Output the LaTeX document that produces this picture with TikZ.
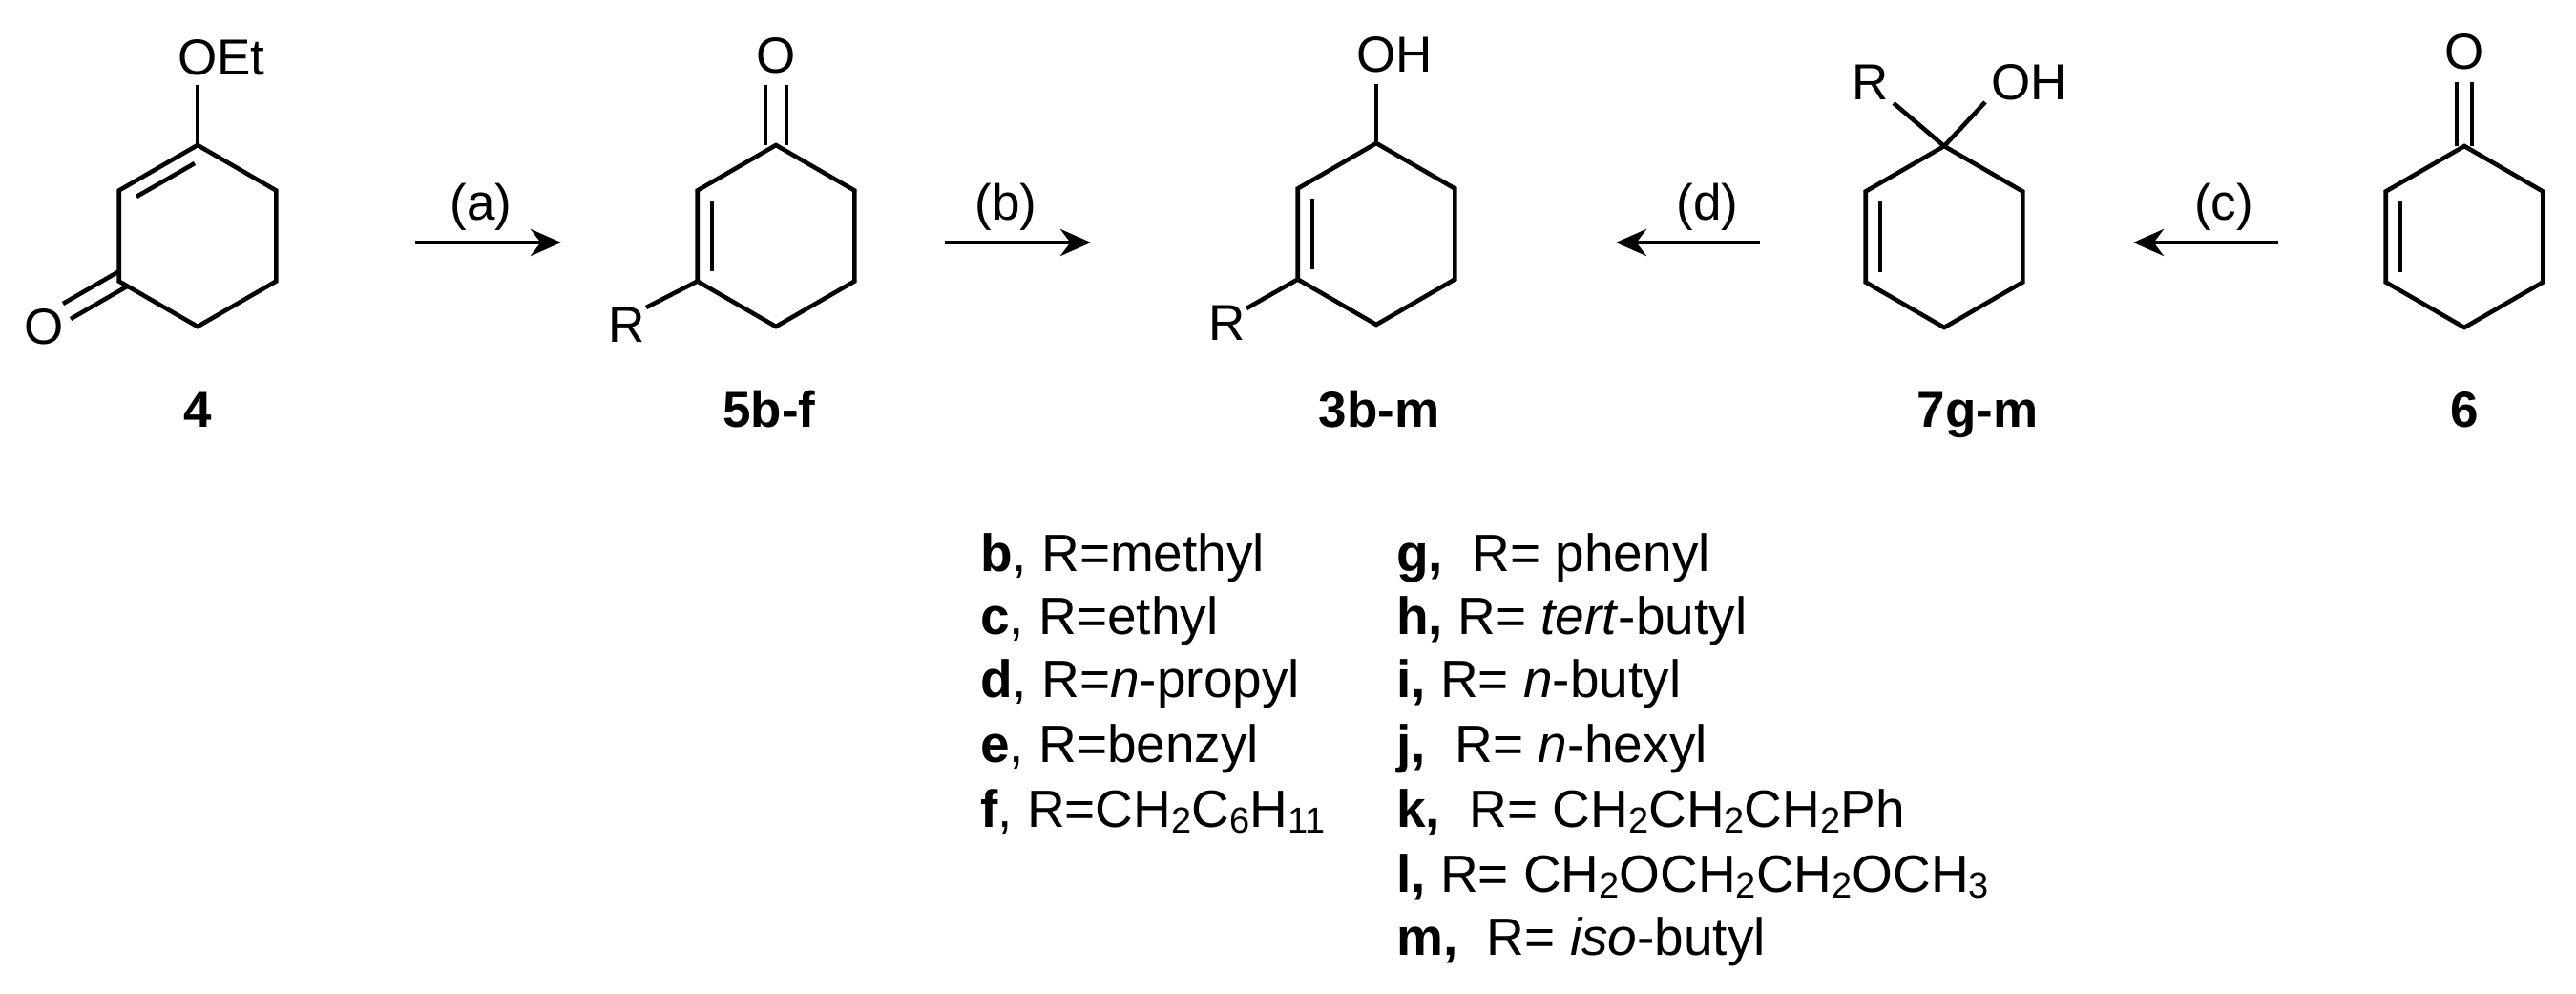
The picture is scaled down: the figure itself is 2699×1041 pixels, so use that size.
\documentclass[tikz,border=0pt]{standalone}
\usepackage{fontspec}
\setmainfont{Liberation Sans}
\usetikzlibrary{arrows.meta}
\newcommand\hexring[3]{% name, cx, top y
  \coordinate (#1T) at (#2,#3);
  \coordinate (#1UR) at (#2+82.3,#3+47.5);
  \coordinate (#1LR) at (#2+82.3,#3+142.5);
  \coordinate (#1B) at (#2,#3+190);
  \coordinate (#1LL) at (#2-82.3,#3+142.5);
  \coordinate (#1UL) at (#2-82.3,#3+47.5);
  \draw[bond,line join=miter] (#1T)--(#1UR)--(#1LR)--(#1B)--(#1LL)--(#1UL)--cycle;}
\newcommand\leftinner[3]{\draw[bond] (#2-67,#3+58) -- (#2-67,#3+132);}
\newcommand\lsub[1]{\raisebox{-0.12em}{\fontsize{38}{40}\selectfont #1}}
\begin{document}
\begin{tikzpicture}[x=1pt,y=-1pt,
  bond/.style={line width=4.6pt},
  txt/.style={inner sep=0pt,font=\fontsize{53}{60}\selectfont},
  lbl/.style={inner sep=0pt,anchor=base,font=\fontsize{53}{60}\selectfont\bfseries},
  rxn/.style={line width=4.6pt,-{Stealth[length=32pt,width=28pt]}},
  leg/.style={inner sep=0pt,anchor=base west,font=\fontsize{55}{60}\selectfont}]
\useasboundingbox (0,0) rectangle (2699,1041);
% ring 4
\hexring{a}{207}{152}
\draw[bond] (204,171) -- (143,206);
\draw[bond] (207,152) -- (207,89);
\node[txt,anchor=base west] (oet) at (186,78) {OEt};
\draw[bond] (125,284) -- (66,318);
\draw[bond] (133,300) -- (74,334);
\node[txt,anchor=base west] (oa) at (25,360) {O};
\node[lbl] (l4) at (207,447) {4};
% ring 5
\hexring{b}{813}{152}
\leftinner{b}{813}{152}
\draw[bond] (802,152) -- (802,89);
\draw[bond] (824,152) -- (824,89);
\node[txt,anchor=base west] (ob) at (792,77) {O};
\draw[bond] (bLL) -- (677,322);
\node[txt,anchor=base west] (rb) at (637,358) {R};
\node[lbl] (l5) at (806,447) {5b-f};
% ring 3
\hexring{c}{1442}{150}
\leftinner{c}{1442}{150}
\draw[bond] (cT) -- (1442,88);
\node[txt,anchor=base west] (oc) at (1421,75) {OH};
\draw[bond] (cLL) -- (1306,323);
\node[txt,anchor=base west] (rc) at (1266,356) {R};
\node[lbl] (l3) at (1445,447) {3b-m};
% ring 7
\hexring{d}{2037}{153}
\leftinner{d}{2037}{153}
\draw[bond] (dT) -- (1984,108);
\draw[bond] (dT) -- (2080,107);
\node[txt,anchor=base west] (rd) at (1940,104) {R};
\node[txt,anchor=base west] (od) at (2086,104) {OH};
\node[lbl] (l7) at (2072,447) {7g-m};
% ring 6
\hexring{e}{2582}{153}
\leftinner{e}{2582}{153}
\draw[bond] (2574,153) -- (2574,86);
\draw[bond] (2590,153) -- (2590,86);
\node[txt,anchor=base west] (oe) at (2561,73) {O};
\node[lbl] (l6) at (2582,447) {6};
% arrows
\coordinate (a1) at (435,254); \coordinate (a2) at (588,254);
\draw[rxn] (a1) -- (a2);
\node[txt,anchor=base] (ra) at (504,230) {(a)};
\coordinate (b1) at (990,254); \coordinate (b2) at (1143,254);
\draw[rxn] (b1) -- (b2);
\node[txt,anchor=base] (rb2) at (1054,230) {(b)};
\coordinate (d1) at (1844,254); \coordinate (d2) at (1693,254);
\draw[rxn] (d1) -- (d2);
\node[txt,anchor=base] (rd2) at (1789,230) {(d)};
\coordinate (c1) at (2387,254); \coordinate (c2) at (2235,254);
\draw[rxn] (c1) -- (c2);
\node[txt,anchor=base] (rc2) at (2330,230) {(c)};
% legend
\node[leg] (lb) at (1027,598) {\textbf{b}, R=methyl};
\node[leg] (lc) at (1027,664) {\textbf{c}, R=ethyl};
\node[leg] (ld) at (1027,730) {\textbf{d}, R=\textit{n}-propyl};
\node[leg] (le) at (1027,798) {\textbf{e}, R=benzyl};
\node[leg] (lf) at (1027,866) {\textbf{f}, R=CH\lsub{2}C\lsub{6}H\lsub{11}};
\node[leg] (lg) at (1463,598) {\textbf{g,}\ \ R= phenyl};
\node[leg] (lh) at (1463,664) {\textbf{h,} R= \textit{tert}-butyl};
\node[leg] (li) at (1463,730) {\textbf{i,} R= \textit{n}-butyl};
\node[leg] (lj) at (1463,798) {\textbf{j,}\ \ R= \textit{n}-hexyl};
\node[leg] (lk) at (1463,866) {\textbf{k,}\ \ R= CH\lsub{2}CH\lsub{2}CH\lsub{2}Ph};
\node[leg] (ll) at (1463,934) {\textbf{l,} R= CH\lsub{2}OCH\lsub{2}CH\lsub{2}OCH\lsub{3}};
\node[leg] (lm) at (1463,1000) {\textbf{m,}\ \ R= \textit{iso}-butyl};
\end{tikzpicture}
\end{document}
